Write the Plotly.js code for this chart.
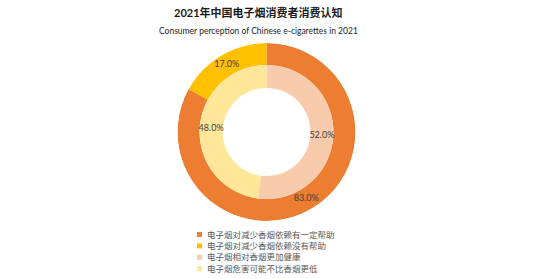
<!DOCTYPE html>
<html>
<head>
<meta charset="utf-8">
<script src="https://cdn.plot.ly/plotly-3.0.1.min.js"></script>
<style>html,body{margin:0;padding:0;background:#fff;}#chart{width:550px;height:279px;}</style>
</head>
<body>
<div id="chart"></div>
<script>
// Data
const outerLabels = ["电子烟对减少香烟依赖有一定帮助", "电子烟对减少香烟依赖没有帮助"];
const outerValues = [83.0, 17.0];
const innerLabels = ["电子烟相对香烟更加健康", "电子烟危害可能不比香烟更低"];
const innerValues = [52.0, 48.0];
const outerColors = ["#ED7D31", "#FFC000"];
const innerColors = ["#F8CBAD", "#FFE699"];
const titleText = "2021年中国电子烟消费者消费认知";
const subtitleText = "Consumer perception of Chinese e-cigarettes in 2021";

const FONT = "Lato, 'Noto Sans CJK SC', sans-serif";
const W = 550, H = 279;
const cx = 266.5, cy = 132, R1 = 89, R2 = 67, R3 = 44;

// ring geometry from data (percent -> degrees)
function ring(values) {
  const total = values.reduce((a, b) => a + b, 0);
  let cum = 0;
  const mids = [], widths = [];
  values.forEach(v => {
    const deg = v / total * 360;
    mids.push(cum + deg / 2);
    widths.push(deg);
    cum += deg;
  });
  return {mids, widths};
}
const oR = ring(outerValues), iR = ring(innerValues);
const fmt = v => v.toFixed(1) + "%";

const traces = [
  {type: "barpolar", name: "outer", theta: oR.mids, width: oR.widths,
   r: outerValues.map(() => R1 - R2), base: outerValues.map(() => R2),
   marker: {color: outerColors, line: {width: 0}}, text: outerLabels, hoverinfo: "text", showlegend: false},
  {type: "barpolar", name: "inner", theta: iR.mids, width: iR.widths,
   r: innerValues.map(() => R2 - R3), base: innerValues.map(() => R3),
   marker: {color: innerColors, line: {width: 0}}, text: innerLabels, hoverinfo: "text", showlegend: false},
  {type: "scatterpolar", mode: "text", theta: oR.mids, r: outerValues.map(() => (R1 + R2) / 2),
   text: outerValues.map(fmt), textposition: "middle center",
   textfont: {family: FONT, size: 9, color: "#404040"}, hoverinfo: "skip", showlegend: false},
  {type: "scatterpolar", mode: "text", theta: iR.mids, r: innerValues.map(() => (R2 + R3) / 2),
   text: innerValues.map(fmt), textposition: "middle center",
   textfont: {family: FONT, size: 9, color: "#404040"}, hoverinfo: "skip", showlegend: false}
];

// custom compact legend
const legLabels = outerLabels.concat(innerLabels);
const legColors = outerColors.concat(innerColors);
const shapes = [];
const annotations = [
  {text: "<b>" + titleText + "</b>", xref: "paper", yref: "paper", x: 258.5 / W, y: 1 - 13 / H,
   xanchor: "center", yanchor: "middle", showarrow: false, font: {family: FONT, size: 11, color: "#1a1a1a"}},
  {text: subtitleText, xref: "paper", yref: "paper", x: 258.5 / W, y: 1 - 31 / H,
   xanchor: "center", yanchor: "middle", showarrow: false, font: {family: FONT, size: 8.5, color: "#262626"}}
];
const legX = 197, legY0 = 234.5, legDY = 11.4, sq = 5;
legLabels.forEach((lab, i) => {
  const y = legY0 + i * legDY;
  shapes.push({type: "rect", xref: "paper", yref: "paper",
    x0: legX / W, x1: (legX + sq) / W, y0: 1 - (y + sq / 2) / H, y1: 1 - (y - sq / 2) / H,
    fillcolor: legColors[i], line: {width: 0}});
  annotations.push({text: lab, xref: "paper", yref: "paper", x: (legX + 7.5) / W, y: 1 - y / H,
    xanchor: "left", yanchor: "middle", showarrow: false,
    font: {family: FONT, size: 8.5, color: "#595959"}});
});

const layout = {
  width: W, height: H,
  margin: {l: 0, r: 0, t: 0, b: 0},
  paper_bgcolor: "#ffffff",
  showlegend: false,
  shapes: shapes,
  annotations: annotations,
  font: {family: FONT},
  polar: {
    domain: {x: [(cx - R1) / W, (cx + R1) / W], y: [(H - cy - R1) / H, (H - cy + R1) / H]},
    bgcolor: "rgba(0,0,0,0)",
    bargap: 0,
    radialaxis: {range: [0, R1], visible: false, showgrid: false, showline: false, showticklabels: false, ticks: ""},
    angularaxis: {direction: "clockwise", rotation: 90, visible: false, showgrid: false, showline: false,
                  showticklabels: false, ticks: ""}
  }
};

Plotly.newPlot("chart", traces, layout, {displayModeBar: false, staticPlot: true});
</script>
</body>
</html>
